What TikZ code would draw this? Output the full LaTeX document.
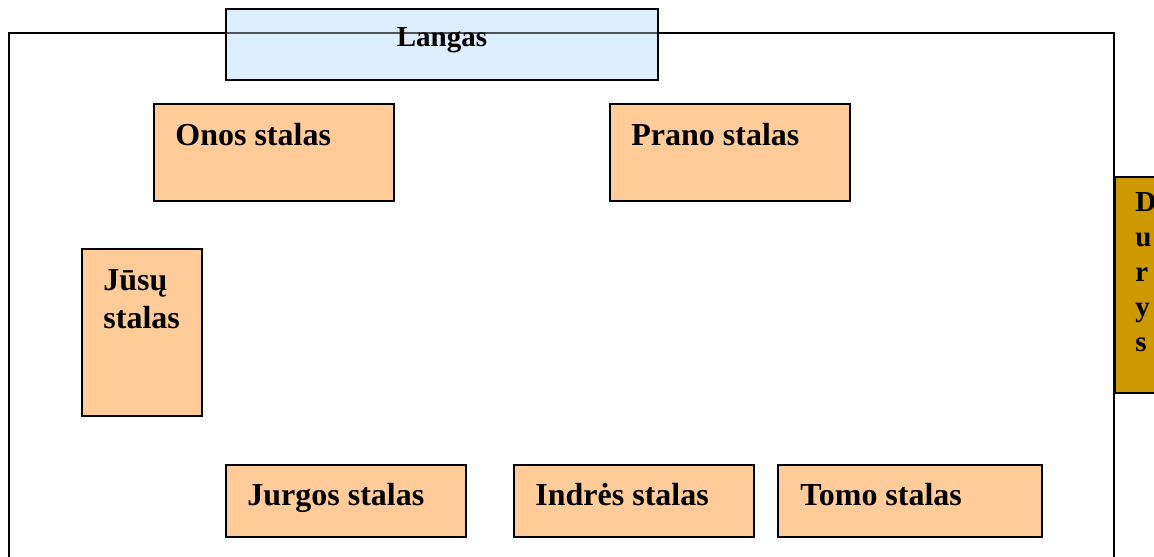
\documentclass[tikz,border=0pt]{standalone}
\usepackage{fontspec}
\setmainfont{Liberation Serif}
\definecolor{peach}{HTML}{FFCC99}
\definecolor{winblue}{HTML}{DDEEFF}
\definecolor{doorgold}{HTML}{CC9900}
\begin{document}
\begin{tikzpicture}[x=0.5pt,y=-0.5pt,
  desk/.style={draw=black, line width=1pt, fill=peach, rectangle, inner sep=0pt},
  lbl/.style={anchor=base west, inner sep=0pt, font=\fontsize{16}{19}\selectfont\bfseries},
  room/.style={draw=black, line width=1.4pt}]
\useasboundingbox (0,0) rectangle (1154,556);
\clip (0,0) rectangle (1154,556);
% window (glass)
\node[fill=winblue, minimum width=216pt, minimum height=35.5pt, inner sep=0pt] (langas) at (442,44.5) {};
% room walls
\coordinate (r1) at (9,600);
\coordinate (r2) at (9,33);
\coordinate (r3) at (1114,33);
\coordinate (r4) at (1114,600);
\draw[room] (r1) -- (r2) -- (r3) -- (r4);
% translucent window glass over the wall line, and its frame
\fill[winblue, opacity=0.35] (langas.south west) rectangle (langas.north east);
\draw[black, line width=1pt] (langas.south west) rectangle (langas.north east);
\node[anchor=base, inner sep=0pt, font=\fontsize{14.5}{17}\selectfont\bfseries] (langasT) at (442,47) {Langas};
% door
\node[draw=black, line width=1pt, fill=doorgold, minimum width=27.5pt, minimum height=108pt, inner sep=0pt] (durys) at (1142.5,285) {};
\node[anchor=base west, inner sep=0pt, align=left, font=\fontsize{14.5}{17.5}\selectfont\bfseries] (durysT) at (1135,351) {D\\u\\r\\y\\s};
% desks
\node[desk, minimum width=120pt, minimum height=48.5pt] (onos) at (274,152.5) {};
\node[lbl] (onosT) at (175,145) {Onos stalas};
\node[desk, minimum width=120pt, minimum height=48.5pt] (prano) at (730,152.5) {};
\node[lbl] (pranoT) at (631,145) {Prano stalas};
\node[desk, minimum width=60pt, minimum height=83.5pt] (jusu) at (142,332.5) {};
\node[lbl, align=left, font=\fontsize{16}{19}\selectfont\bfseries] (jusuT) at (103,328) {Jūsų\\stalas};
\node[desk, minimum width=120pt, minimum height=36pt] (jurgos) at (346,501) {};
\node[lbl] (jurgosT) at (247,505) {Jurgos stalas};
\node[desk, minimum width=120pt, minimum height=36pt] (indres) at (634,501) {};
\node[lbl] (indresT) at (535,505) {Indrės stalas};
\node[desk, minimum width=132pt, minimum height=36pt] (tomo) at (910,501) {};
\node[lbl] (tomoT) at (800,505) {Tomo stalas};
\end{tikzpicture}
\end{document}
